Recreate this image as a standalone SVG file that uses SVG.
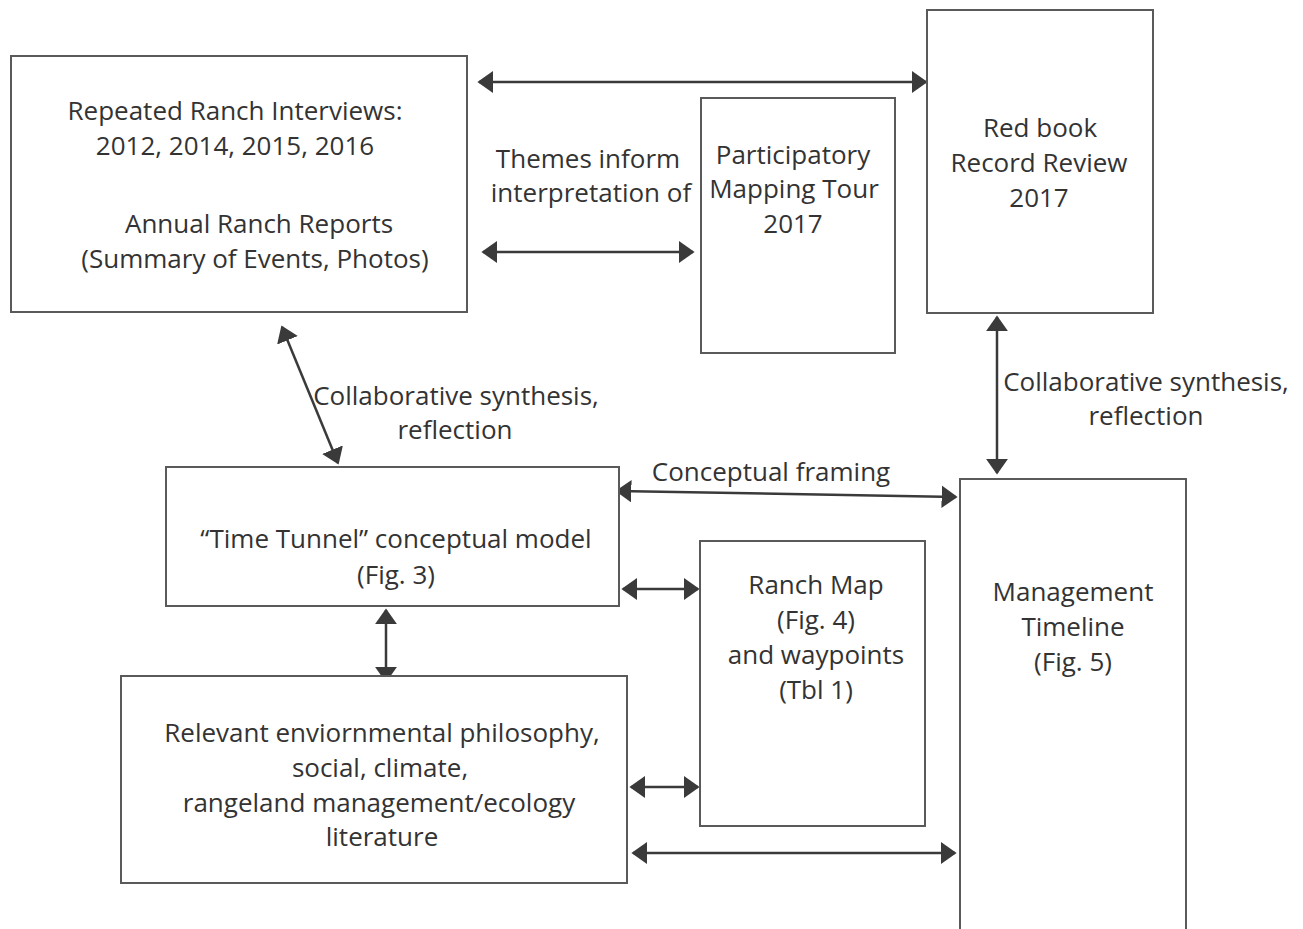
<svg xmlns="http://www.w3.org/2000/svg" width="1303" height="929" viewBox="0 0 1303 929">
<defs>
<style>
.box{fill:#fff;stroke:#5a5a5a;stroke-width:2}
.t{font-family:"Open Sans","Noto Sans",sans-serif;font-size:26px;fill:#333;text-anchor:middle}
.c{stroke:#3a3a3a;stroke-width:2.5;fill:none;marker-start:url(#ah);marker-end:url(#ah)}
</style>
<marker id="ah" viewBox="0 0 10 14" refX="9" refY="7" markerWidth="6.4" markerHeight="9" orient="auto-start-reverse" markerUnits="strokeWidth">
<path d="M0,0 L10,7 L0,14 z" fill="#3a3a3a"/>
</marker>
</defs>
<rect width="1303" height="929" fill="#fff"/>
<g id="connectors">
<line class="c" x1="479" y1="82" x2="926" y2="82"/>
<line class="c" x1="483" y1="252" x2="693" y2="252"/>
<line class="c" x1="282" y1="327" x2="338" y2="463"/>
<line class="c" x1="997" y1="317" x2="997" y2="473"/>
<line class="c" x1="617" y1="491" x2="956" y2="497"/>
<line class="c" x1="623" y1="589" x2="698" y2="589"/>
<line class="c" x1="386" y1="610" x2="386" y2="681"/>
<line class="c" x1="631" y1="787" x2="698" y2="787"/>
<line class="c" x1="633" y1="853" x2="955" y2="853"/>
</g>
<g id="interviews">
<rect class="box" x="11" y="56" width="456" height="256"/>
<text class="t" x="235" y="120">Repeated Ranch Interviews:</text>
<text class="t" x="235" y="155">2012, 2014, 2015, 2016</text>
<text class="t" x="259" y="233">Annual Ranch Reports</text>
<text class="t" x="255" y="268">(Summary of Events, Photos)</text>
</g>
<g id="themes-label">
<text class="t" x="588" y="168">Themes inform</text>
<text class="t" x="591" y="202">interpretation of</text>
</g>
<g id="mapping">
<rect class="box" x="701" y="98" width="194" height="255"/>
<text class="t" x="793" y="164">Participatory</text>
<text class="t" x="794" y="198">Mapping Tour</text>
<text class="t" x="793" y="233">2017</text>
</g>
<g id="redbook">
<rect class="box" x="927" y="10" width="226" height="303"/>
<text class="t" x="1040" y="137">Red book</text>
<text class="t" x="1039" y="172">Record Review</text>
<text class="t" x="1039" y="207">2017</text>
</g>
<g id="labels">
<text class="t" x="456" y="405">Collaborative synthesis,</text>
<text class="t" x="455" y="439">reflection</text>
<text class="t" x="1146" y="391">Collaborative synthesis,</text>
<text class="t" x="1146" y="425">reflection</text>
<text class="t" x="771" y="481">Conceptual framing</text>
</g>
<g id="timetunnel">
<rect class="box" x="166" y="467" width="453" height="139"/>
<text class="t" x="396" y="548">“Time Tunnel” conceptual model</text>
<text class="t" x="396" y="584">(Fig. 3)</text>
</g>
<g id="ranchmap">
<rect class="box" x="700" y="541" width="225" height="285"/>
<text class="t" x="816" y="594">Ranch Map</text>
<text class="t" x="816" y="629">(Fig. 4)</text>
<text class="t" x="816" y="664">and waypoints</text>
<text class="t" x="816" y="699">(Tbl 1)</text>
</g>
<g id="timeline">
<rect class="box" x="960" y="479" width="226" height="470"/>
<text class="t" x="1073" y="601">Management</text>
<text class="t" x="1073" y="636">Timeline</text>
<text class="t" x="1073" y="671">(Fig. 5)</text>
</g>
<g id="literature">
<rect class="box" x="121" y="676" width="506" height="207"/>
<text class="t" x="382" y="742">Relevant enviornmental philosophy,</text>
<text class="t" x="380" y="777">social, climate,</text>
<text class="t" x="379" y="812">rangeland management/ecology</text>
<text class="t" x="382" y="846">literature</text>
</g>
</svg>
